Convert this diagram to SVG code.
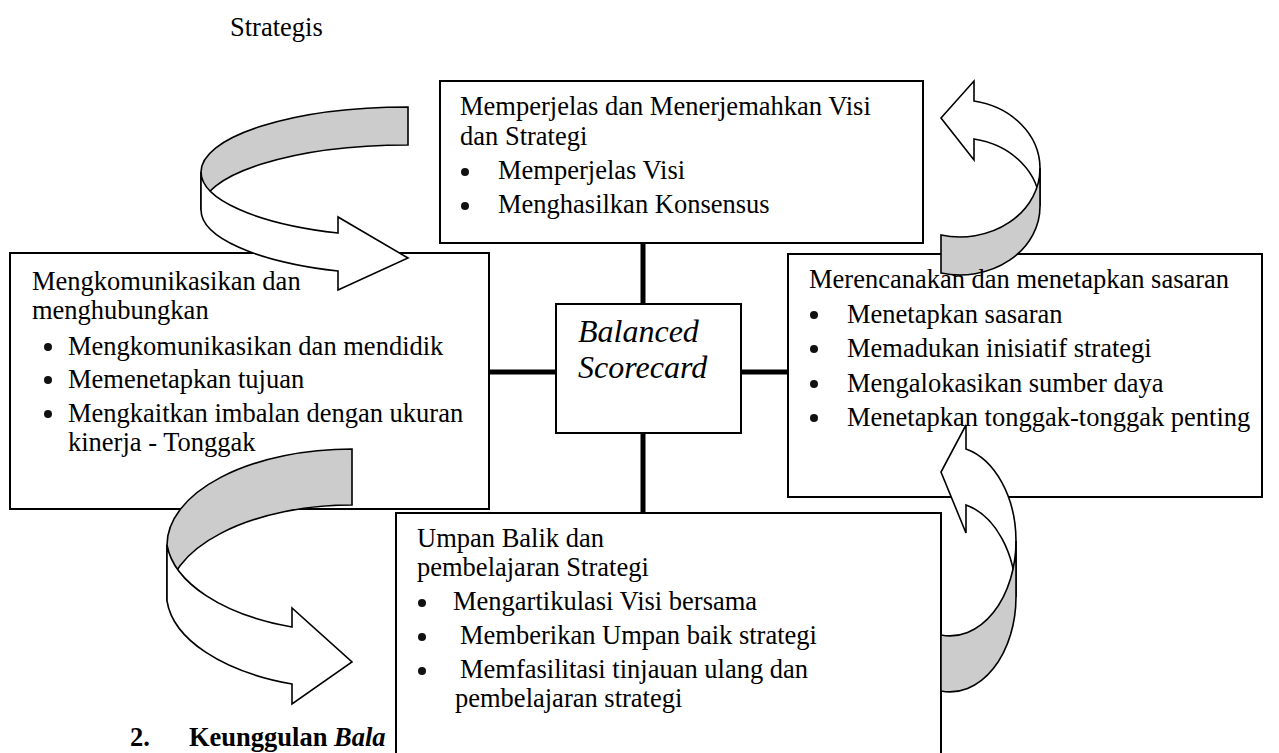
<svg xmlns="http://www.w3.org/2000/svg" width="1279" height="753" viewBox="0 0 1279 753">
<style>
.box{fill:#fff;stroke:#000;stroke-width:2}
.conn{stroke:#000;stroke-width:5;fill:none}
.t{font-family:"Liberation Serif","Times New Roman",serif;font-size:26.5px;fill:#000}
.bc{font-family:"Liberation Serif","Times New Roman",serif;font-size:32px;font-style:italic;fill:#000}
.hb{font-family:"Liberation Serif","Times New Roman",serif;font-size:26.5px;font-weight:bold;fill:#000}
.w{fill:#fff;stroke:#000;stroke-width:1.6;stroke-linejoin:miter}
.g{fill:#cccccc;stroke:#000;stroke-width:1.6;stroke-linejoin:miter}
.dot{fill:#111}
</style>
<rect width="1279" height="753" fill="#fff"/>
<text class="t" x="230" y="36">Strategis</text>
<text class="hb" x="130" y="746">2.<tspan x="189">Keunggulan </tspan><tspan font-style="italic">Bala</tspan></text>

<g id="node-left">
<rect class="box" x="10" y="253" width="479" height="256"/>
</g>
<g id="node-right">
<rect class="box" x="788" y="254" width="474" height="243"/>
</g>
<g id="node-top">
<rect class="box" x="440" y="81" width="483" height="162"/>
</g>
<g id="node-bottom">
<rect class="box" x="396" y="513" width="545" height="260"/>
</g>
<g id="node-center">
<rect class="box" x="556" y="304" width="185" height="129"/>
<text class="bc" x="578" y="342">Balanced</text>
<text class="bc" x="578" y="378">Scorecard</text>
</g>

<g id="connectors">
<line class="conn" x1="643" y1="243" x2="643" y2="304"/>
<line class="conn" x1="643" y1="433" x2="643" y2="513"/>
<line class="conn" x1="489" y1="372" x2="556" y2="372"/>
<line class="conn" x1="741" y1="372" x2="788" y2="372"/>
</g>

<g id="arrow-top-left">
<path class="g" d="M408,107 A207,65 0 0 0 201,172 L201,210 A207,65 0 0 1 408,145 Z"/>
<path class="w" d="M201,172 A207,65 0 0 0 338,233 L338,217 L408,258 L338,290 L338,271 A207,65 0 0 1 201,210 Z"/>
</g>
<g id="arrow-top-right">
<path class="w" d="M974,101 L974,81 L941,118 L974,160 L974,139 A80,68.5 0 0 1 1040,206 L1040,168 A80,68.5 0 0 0 974,101 Z"/>
<path class="g" d="M941,235 A80,68.5 0 0 0 1040,168 L1040,206 A80,68.5 0 0 1 941,273 Z"/>
</g>
<g id="arrow-bottom-left">
<path class="g" d="M352,449 A185,96 0 0 0 167,545 L167,601 A185,96 0 0 1 352,505 Z"/>
<path class="w" d="M167,545 A185,96 0 0 0 292,627 L292,608 L352,662 L292,704 L292,684 A185,96 0 0 1 167,601 Z"/>
</g>
<g id="arrow-bottom-right">
<path class="w" d="M966,449 L966,425 L941,472 L966,533 L966,505 A66,95 0 0 1 1016,597 L1016,541 A66,95 0 0 0 966,449 Z"/>
<path class="g" d="M941,635 A66,95 0 0 0 1016,541 L1016,597 A66,95 0 0 1 941,691 Z"/>
</g>

<g id="text-top">
<text class="t" x="460" y="115">Memperjelas dan Menerjemahkan Visi</text>
<text class="t" x="460" y="145">dan Strategi</text>
<circle class="dot" cx="465" cy="172" r="4"/>
<text class="t" x="498" y="179">Memperjelas Visi</text>
<circle class="dot" cx="465" cy="206" r="4"/>
<text class="t" x="498" y="213">Menghasilkan Konsensus</text>
</g>
<g id="text-left">
<text class="t" x="32" y="290">Mengkomunikasikan dan</text>
<text class="t" x="32" y="319">menghubungkan</text>
<circle class="dot" cx="48" cy="347" r="4"/>
<text class="t" x="68" y="355">Mengkomunikasikan dan mendidik</text>
<circle class="dot" cx="48" cy="380" r="4"/>
<text class="t" x="68" y="388">Memenetapkan tujuan</text>
<circle class="dot" cx="48" cy="414" r="4"/>
<text class="t" x="68" y="422">Mengkaitkan imbalan dengan ukuran</text>
<text class="t" x="68" y="451">kinerja - Tonggak</text>
</g>
<g id="text-right">
<text class="t" x="809" y="288">Merencanakan dan menetapkan sasaran</text>
<circle class="dot" cx="814" cy="315" r="4"/>
<text class="t" x="847" y="323">Menetapkan sasaran</text>
<circle class="dot" cx="814" cy="349" r="4"/>
<text class="t" x="847" y="357">Memadukan inisiatif strategi</text>
<circle class="dot" cx="814" cy="384" r="4"/>
<text class="t" x="847" y="392">Mengalokasikan sumber daya</text>
<circle class="dot" cx="814" cy="418" r="4"/>
<text class="t" x="847" y="426">Menetapkan tonggak-tonggak penting</text>
</g>
<g id="text-bottom">
<text class="t" x="417" y="547">Umpan Balik dan</text>
<text class="t" x="417" y="576">pembelajaran Strategi</text>
<circle class="dot" cx="422" cy="603" r="4"/>
<text class="t" x="453" y="610">Mengartikulasi Visi bersama</text>
<circle class="dot" cx="422" cy="637" r="4"/>
<text class="t" x="460" y="644">Memberikan Umpan baik strategi</text>
<circle class="dot" cx="422" cy="671" r="4"/>
<text class="t" x="460" y="678">Memfasilitasi tinjauan ulang dan</text>
<text class="t" x="455" y="707">pembelajaran strategi</text>
</g>
</svg>
